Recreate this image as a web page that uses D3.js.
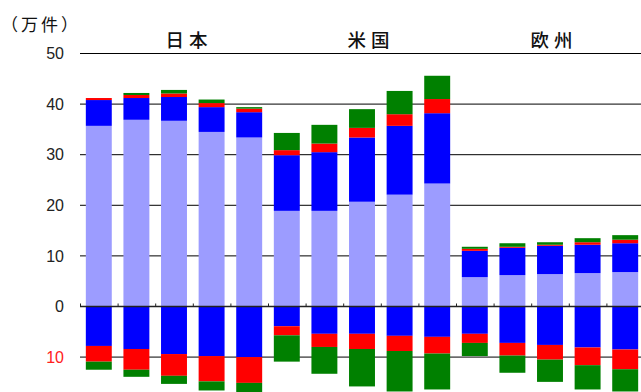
<!DOCTYPE html>
<html>
<head>
<meta charset="utf-8">
<script src="https://cdn.jsdelivr.net/npm/d3@7"></script>
<style>
  html, body { margin: 0; padding: 0; background: #fff; }
  svg { display: block; }
</style>
</head>
<body>
<svg id="chart" width="641" height="392"></svg>
<script>
// Regions (five bars each) and the unit caption
const regions = ["日本", "米国", "欧州"];
const barsPerRegion = 5;
const unitLabel = "（万件）";

// Upward stack (万件)
const upLavender = [35.7, 36.9, 36.7, 34.5, 33.4, 18.9, 18.9, 20.7, 22.1, 24.3, 5.8, 6.2, 6.4, 6.6, 6.8];
const upBlue     = [5.1, 4.3, 4.7, 4.9, 5.0, 11.0, 11.6, 12.7, 13.6, 13.9, 5.2, 5.4, 5.6, 5.6, 5.7];
const upRed      = [0.4, 0.6, 0.7, 0.8, 0.7, 1.0, 1.7, 1.9, 2.3, 2.8, 0.4, 0.2, 0.2, 0.5, 0.7];
const upGreen    = [0.0, 0.4, 0.7, 0.7, 0.3, 3.4, 3.7, 3.7, 4.6, 4.6, 0.4, 0.7, 0.5, 0.8, 0.9];

// Downward stack (万件, drawn below zero)
const downBlue   = [7.8, 8.4, 9.4, 9.8, 10.0, 3.9, 5.4, 5.4, 5.8, 6.0, 5.4, 7.2, 7.6, 8.1, 8.5];
const downRed    = [3.1, 4.1, 4.3, 5.0, 5.1, 1.8, 2.6, 3.0, 3.0, 3.3, 1.8, 2.5, 2.9, 3.5, 3.9];
const downGreen  = [1.6, 1.4, 1.6, 1.8, 1.8, 5.2, 5.3, 7.4, 8.0, 7.1, 2.6, 3.4, 4.4, 4.8, 4.4];

// Value axis ticks and their labels (below zero shown without sign)
const tickValues = [50, 40, 30, 20, 10, 0, -10];
const tickLabels = ["50", "40", "30", "20", "10", "0", "10"];

const svg = d3.select("#chart");
const W = 641, H = 392;
const left = 80, right = 644;

const n = upLavender.length;
const idx = d3.range(n);

const x = d3.scaleBand().domain(idx).range([left, right])
  .paddingInner(0.31).paddingOuter(0.155);
const y = d3.scaleLinear().domain([-17, 50]).range([392.5, 53.5]);

const colors = {
  upLavender: "#9c9cff", upBlue: "#0000ff", upRed: "#ff0000", upGreen: "#008000",
  downBlue: "#0000ff", downRed: "#ff0000", downGreen: "#008000"
};
const keys = ["upLavender", "upBlue", "upRed", "upGreen", "downBlue", "downRed", "downGreen"];
const table = idx.map(i => ({
  upLavender: upLavender[i], upBlue: upBlue[i], upRed: upRed[i], upGreen: upGreen[i],
  downBlue: -downBlue[i], downRed: -downRed[i], downGreen: -downGreen[i]
}));
const series = d3.stack().keys(keys).offset(d3.stackOffsetDiverging)(table);

// Gridlines (behind bars)
svg.append("g")
  .selectAll("line")
  .data(tickValues.filter(v => v !== 0))
  .join("line")
  .attr("x1", left).attr("x2", W)
  .attr("y1", d => y(d)).attr("y2", d => y(d))
  .attr("stroke", "#000").attr("stroke-width", 1);

// Value labels
svg.append("g")
  .selectAll("text")
  .data(tickValues)
  .join("text")
  .attr("x", 64)
  .attr("y", d => y(d))
  .attr("dy", "0.36em")
  .attr("text-anchor", "end")
  .attr("font-family", "'Liberation Sans', Arial, sans-serif")
  .attr("font-size", 16)
  .attr("fill", d => d < 0 ? "#ff2020" : "#222")
  .text((d, i) => tickLabels[i]);

// Stacked bars
svg.append("g")
  .selectAll("g")
  .data(series)
  .join("g")
  .attr("fill", s => colors[s.key])
  .selectAll("rect")
  .data(s => s.map((d, i) => ({ d, i })))
  .join("rect")
  .attr("x", o => x(o.i))
  .attr("width", x.bandwidth())
  .attr("y", o => y(Math.max(o.d[0], o.d[1])))
  .attr("height", o => Math.abs(y(o.d[0]) - y(o.d[1])));

// Zero line with small boundary ticks
const bx = d3.scaleLinear().domain([0, n]).range([left, right]);
const zeroAxis = svg.append("g")
  .attr("transform", `translate(0,${y(0)})`)
  .call(d3.axisTop(bx).tickValues(d3.range(0, n)).tickSize(3).tickFormat(""));
zeroAxis.select(".domain").attr("d", `M${left},0H${W}`).attr("stroke", "#222").attr("stroke-width", 1.6);
zeroAxis.selectAll(".tick line").attr("stroke", "#222");

// Region headings
svg.append("g")
  .selectAll("text")
  .data(regions)
  .join("text")
  .attr("x", (d, g) => {
    const a = x(g * barsPerRegion), b = x(g * barsPerRegion + barsPerRegion - 1) + x.bandwidth();
    return (a + b) / 2 + (g === 0 ? 15 : g === 1 ? 9 : 4);
  })
  .attr("y", 47)
  .attr("text-anchor", "middle")
  .attr("font-family", "'Noto Sans CJK JP', sans-serif")
  .attr("font-size", 18.5)
  .attr("font-weight", 500)
  .attr("letter-spacing", 5)
  .attr("fill", "#111")
  .text(d => d);

// Unit caption
svg.append("text")
  .attr("x", 1)
  .attr("y", 31)
  .attr("font-family", "'Noto Sans CJK JP', sans-serif")
  .attr("font-size", 17)
  .attr("letter-spacing", 3)
  .attr("fill", "#111")
  .text(unitLabel);
</script>
</body>
</html>
